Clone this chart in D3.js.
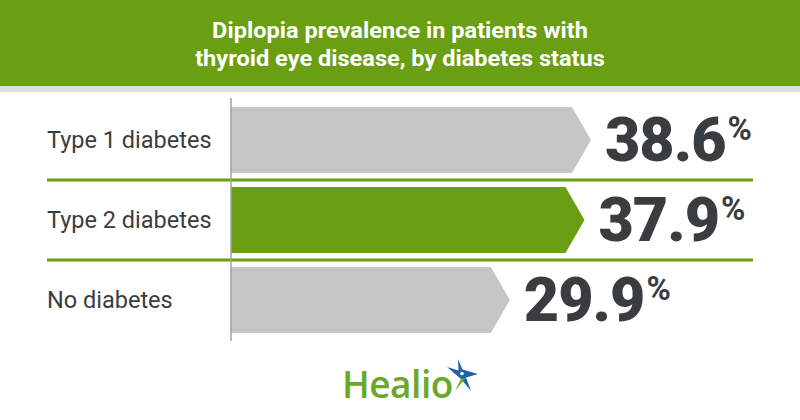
<!DOCTYPE html>
<html>
<head>
<meta charset="utf-8">
<script src="https://cdn.jsdelivr.net/npm/d3@7/dist/d3.min.js"></script>
<style>
  html, body { margin: 0; padding: 0; background: #ffffff; }
  svg { display: block; }
</style>
</head>
<body>
<svg id="chart" width="800" height="420"></svg>
<script>
// ---- Data ----
const titleLines = ["Diplopia prevalence in patients with", "thyroid eye disease, by diabetes status"];
const categories = ["Type 1 diabetes", "Type 2 diabetes", "No diabetes"];
const values = [38.6, 37.9, 29.9];
const highlighted = "Type 2 diabetes";
const brand = "Healio";

// ---- Layout ----
const W = 800, H = 420;
const green = "#6a9e13";
const grayBar = "#c6c6c6";
const textDark = "#3a3d3f";

const svg = d3.select("#chart");

// Header
svg.append("rect").attr("x", 0).attr("y", 0).attr("width", W).attr("height", 86).attr("fill", green);
svg.append("rect").attr("x", 0).attr("y", 86).attr("width", W).attr("height", 6).attr("fill", "#dedede");

const titles = svg.append("g").selectAll("text").data(titleLines).join("text")
  .attr("text-anchor", "middle")
  .attr("fill", "#ffffff")
  .style("font-family", "Roboto, 'Noto Sans', sans-serif")
  .style("font-weight", 700)
  .style("font-size", "21.5px")
  .text(d => d);
// condense title horizontally (Roboto Condensed look)
const natural = titles.nodes()[0].getComputedTextLength();
const sx = 376 / natural;
titles.attr("transform", (d, i) => `translate(${W / 2},${38 + i * 27.5}) scale(${sx},1)`);

// Scales
const y = d3.scaleBand().domain(categories).range([100, 340]).paddingInner(0.175).paddingOuter(0.0875);
const x = d3.scaleLinear().domain([0, 38.6]).range([231, 591]);
const arrow = 19;

const rows = categories.map((c, i) => ({ cat: c, val: values[i] }));

// Separators between rows
const seps = categories.slice(1).map(c => y(c) - (y.step() - y.bandwidth()) / 2);
svg.append("g").selectAll("line").data(seps).join("line")
  .attr("x1", 47).attr("x2", 753)
  .attr("y1", d => d).attr("y2", d => d)
  .attr("stroke", green).attr("stroke-width", 3);

// Bars (arrow shaped)
svg.append("g").selectAll("path").data(rows).join("path")
  .attr("d", d => {
    const x0 = x(0), xt = x(d.val), y0 = y(d.cat), h = y.bandwidth();
    return `M${x0},${y0} L${xt - arrow},${y0} L${xt},${y0 + h / 2} L${xt - arrow},${y0 + h} L${x0},${y0 + h} Z`;
  })
  .attr("fill", d => d.cat === highlighted ? green : grayBar);

// Axis line
svg.append("line")
  .attr("x1", x(0)).attr("x2", x(0))
  .attr("y1", 98).attr("y2", 341)
  .attr("stroke", "#a3a3a3").attr("stroke-width", 1.5);

// Category labels
svg.append("g").selectAll("text").data(rows).join("text")
  .attr("x", 47)
  .attr("y", d => y(d.cat) + y.bandwidth() / 2 + 8)
  .attr("fill", textDark)
  .style("font-family", "Roboto, 'Noto Sans', sans-serif")
  .style("font-size", "23.5px")
  .text(d => d.cat);

// Value labels
const vt = svg.append("g").selectAll("text").data(rows).join("text")
  .attr("x", d => x(d.val) + 14)
  .attr("y", d => y(d.cat) + y.bandwidth() / 2 + 21)
  .attr("fill", textDark)
  .style("font-family", "Roboto, 'Noto Sans', sans-serif")
  .style("font-weight", 900)
  .style("font-size", "61px")
  .style("letter-spacing", "-1px");
vt.append("tspan").text(d => d.val.toFixed(1));
vt.append("tspan").attr("dy", -21).attr("dx", 2).style("font-size", "33px").style("font-weight", 700).text("%");

// Logo
svg.append("text")
  .attr("x", 342).attr("y", 398)
  .attr("fill", "#6aa82a")
  .style("font-family", "'Open Sans', sans-serif")
  .style("font-weight", 600)
  .style("font-size", "37px")
  .style("letter-spacing", "-0.5px")
  .text(brand);

const star = svg.append("g");
star.append("path")
  .attr("d", "M458,359 L462.5,369.5 L478,374 L466,377.5 L471,391 L461,379 L447,367 L458.5,370.5 Z")
  .attr("fill", "#1f62a6");
star.append("path")
  .attr("d", "M461,379 L466,377.5 L455,391 Z")
  .attr("fill", "#6aa82a");
star.append("circle").attr("cx", 462).attr("cy", 373.5).attr("r", 1.8).attr("fill", "#ffffff");
</script>
</body>
</html>
